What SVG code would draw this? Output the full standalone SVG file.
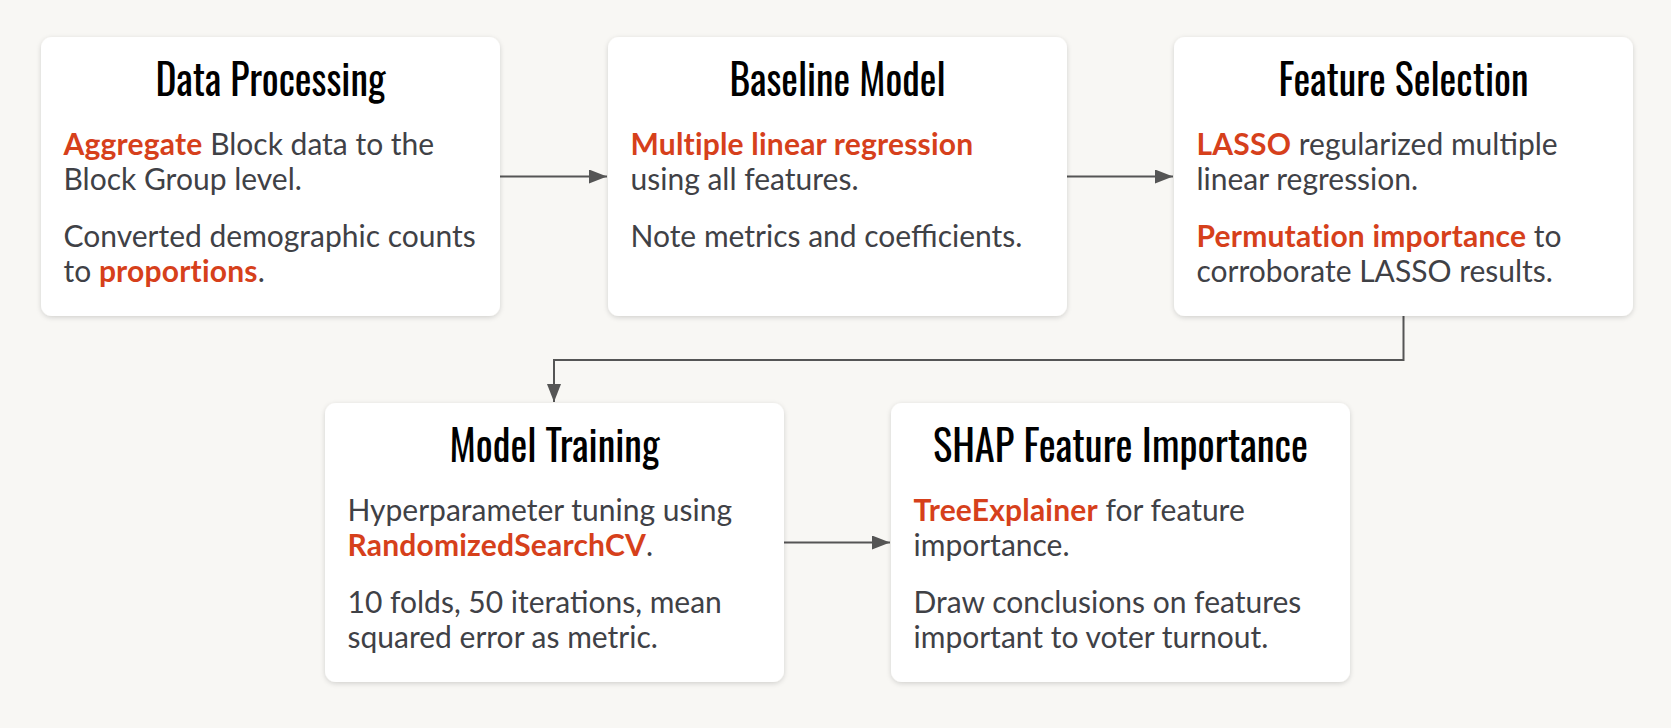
<svg xmlns="http://www.w3.org/2000/svg" width="1671" height="728" viewBox="0 0 1671 728">
<defs>
<style>
.bg{fill:#f8f7f4}
.box{fill:#ffffff;filter:url(#sh)}
.title{font-family:"Oswald","Liberation Sans Narrow","DejaVu Sans Condensed",sans-serif;font-size:42px;fill:#000000;text-anchor:middle}
.body{font-family:Lato,"Liberation Sans",sans-serif;font-size:30px;fill:#3f4146}
.hl{fill:#d6401b;font-weight:bold;letter-spacing:0.2px}
.conn{fill:none;stroke:#555555;stroke-width:2}
</style>
<filter id="sh" x="-10%" y="-10%" width="120%" height="125%">
<feDropShadow dx="0" dy="1.5" stdDeviation="2.5" flood-color="#000000" flood-opacity="0.16"/>
</filter>
<marker id="ah" markerUnits="userSpaceOnUse" markerWidth="18" markerHeight="14" refX="18" refY="7" orient="auto">
<path d="M0,0 L18,7 L0,14 Z" fill="#555555"/>
</marker>
</defs>
<rect class="bg" x="0" y="0" width="1671" height="728"/>
<g id="connectors">
<path class="conn" d="M500,176.5 H607" marker-end="url(#ah)"/>
<path class="conn" d="M1067,176.5 H1173" marker-end="url(#ah)"/>
<path class="conn" d="M1403.5,316 V360 H554 V402" marker-end="url(#ah)"/>
<path class="conn" d="M784,542.5 H890" marker-end="url(#ah)"/>
</g>
<g id="data-processing">
<rect class="box" x="41" y="37" width="459" height="279" rx="11"/>
<text class="title" x="270.5" y="95.5" textLength="230" lengthAdjust="spacingAndGlyphs">Data Processing</text>
<text class="body" x="63.5" y="154.5"><tspan class="hl">Aggregate</tspan> Block data to the</text>
<text class="body" x="63.5" y="190">Block Group level.</text>
<text class="body" x="63.5" y="246.5">Converted demographic counts</text>
<text class="body" x="63.5" y="282">to <tspan class="hl">proportions</tspan>.</text>
</g>
<g id="baseline-model">
<rect class="box" x="608" y="37" width="459" height="279" rx="11"/>
<text class="title" x="837.5" y="95.5" textLength="216" lengthAdjust="spacingAndGlyphs">Baseline Model</text>
<text class="body" x="630.5" y="154.5"><tspan class="hl">Multiple linear regression</tspan></text>
<text class="body" x="630.5" y="190">using all features.</text>
<text class="body" x="630.5" y="246.5">Note metrics and coefficients.</text>
</g>
<g id="feature-selection">
<rect class="box" x="1174" y="37" width="459" height="279" rx="11"/>
<text class="title" x="1403.5" y="95.5" textLength="250" lengthAdjust="spacingAndGlyphs">Feature Selection</text>
<text class="body" x="1196.5" y="154.5"><tspan class="hl">LASSO</tspan> regularized multiple</text>
<text class="body" x="1196.5" y="190">linear regression.</text>
<text class="body" x="1196.5" y="246.5"><tspan class="hl">Permutation importance</tspan> to</text>
<text class="body" x="1196.5" y="282">corroborate LASSO results.</text>
</g>
<g id="model-training">
<rect class="box" x="325" y="403" width="459" height="279" rx="11"/>
<text class="title" x="554.5" y="461.5" textLength="210" lengthAdjust="spacingAndGlyphs">Model Training</text>
<text class="body" x="347.5" y="520.5">Hyperparameter tuning using</text>
<text class="body" x="347.5" y="556"><tspan class="hl">RandomizedSearchCV</tspan>.</text>
<text class="body" x="347.5" y="612.5">10 folds, 50 iterations, mean</text>
<text class="body" x="347.5" y="648">squared error as metric.</text>
</g>
<g id="shap-feature-importance">
<rect class="box" x="891" y="403" width="459" height="279" rx="11"/>
<text class="title" x="1120.5" y="461.5" textLength="375" lengthAdjust="spacingAndGlyphs">SHAP Feature Importance</text>
<text class="body" x="913.5" y="520.5"><tspan class="hl">TreeExplainer</tspan> for feature</text>
<text class="body" x="913.5" y="556">importance.</text>
<text class="body" x="913.5" y="612.5">Draw conclusions on features</text>
<text class="body" x="913.5" y="648">important to voter turnout.</text>
</g>
</svg>
